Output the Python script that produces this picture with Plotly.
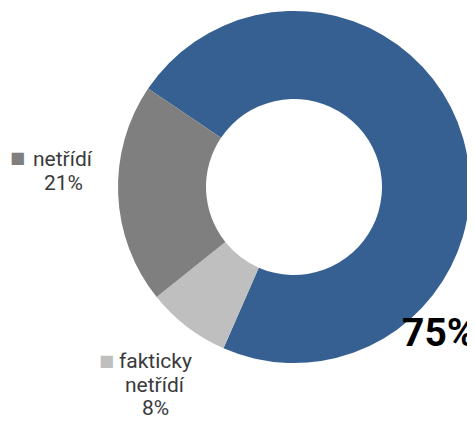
import plotly.graph_objects as go

# Data
categories = ["třídí", "fakticky netřídí", "netřídí"]
values = [75, 8, 21]
colors = ["#376092", "#bfbfbf", "#7f7f7f"]

W, H = 475, 421
OFF = 8  # page body margin offset

cx, cy, R = 294 - OFF, 187 - OFF, 176

fig = go.Figure(go.Pie(
    labels=categories,
    values=values,
    sort=False,
    direction="clockwise",
    rotation=-56,
    hole=0.5,
    marker=dict(colors=colors, line=dict(width=0)),
    textinfo="none",
    hoverinfo="label+value",
    showlegend=False,
    domain=dict(x=[(cx - R) / W, (cx + R) / W],
                y=[(H - cy - R) / H, (H - cy + R) / H]),
))

def px(x, y):
    return (x - OFF) / W, 1 - (y - OFF) / H

annotations = []

# Big label for the main slice
bx, by = px(400, 333)
annotations.append(dict(x=bx, y=by, xref="paper", yref="paper", xanchor="left", yanchor="middle",
                        text=f"{values[0]}%", showarrow=False,
                        font=dict(family="Roboto", size=39, color="#000000", weight="bold")))

# Side labels (legend-key style) for the other slices
label_layout = {
    1: dict(square=(106, 360), center_x=155, line_ys=[361, 385, 408]),
    2: dict(square=(17.5, 157.5), center_x=63, line_ys=[159, 183]),
}
for i, lay in label_layout.items():
    sx, sy = px(*lay["square"])
    annotations.append(dict(x=sx, y=sy, xref="paper", yref="paper", xanchor="center", yanchor="middle",
                            text="■", showarrow=False,
                            font=dict(family="DejaVu Sans", size=16, color=colors[i])))
    lines = categories[i].split(" ") + [f"{values[i]}%"]
    for line, ly in zip(lines, lay["line_ys"]):
        lx, lyp = px(lay["center_x"], ly)
        annotations.append(dict(x=lx, y=lyp, xref="paper", yref="paper", xanchor="center", yanchor="middle",
                                text=line, showarrow=False,
                                font=dict(family="Roboto", size=21, color="#3a3a3a")))

fig.update_layout(
    width=W, height=H,
    margin=dict(l=0, r=0, t=0, b=0),
    paper_bgcolor="white",
    plot_bgcolor="white",
    annotations=annotations,
)

fig.write_html("out.html")
